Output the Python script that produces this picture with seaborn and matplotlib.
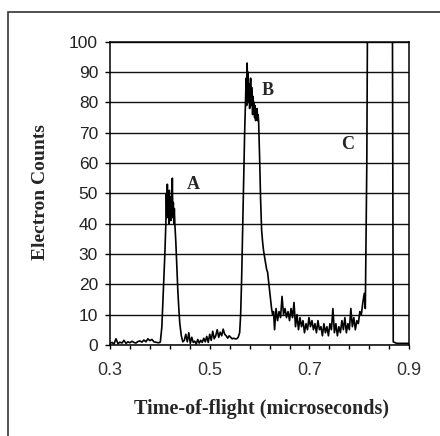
import matplotlib

matplotlib.use("Agg")

import numpy as np
import pandas as pd
import seaborn as sns
from matplotlib import pyplot as plt
from matplotlib.patches import Rectangle

# flat baseline before peak A
pre_a_time = [0.300, 0.304, 0.308, 0.312, 0.316, 0.320, 0.324, 0.328, 0.332, 0.336, 0.340, 0.344, 0.348,
              0.352, 0.356, 0.360, 0.364, 0.368, 0.372, 0.376, 0.380, 0.384, 0.388, 0.392, 0.396, 0.400]
pre_a_counts = [0.5, 0.8, 0.3, 2.0, 0.4, 0.9, 0.6, 1.5, 0.5, 1.0, 0.7, 1.2, 0.8,
                0.6, 1.1, 1.3, 0.9, 1.6, 1.0, 2.0, 1.4, 1.8, 1.0, 0.9, 0.7, 0.8]

# peak A
peak_a_time = [0.401, 0.404, 0.407, 0.410, 0.412, 0.413, 0.414, 0.415, 0.416, 0.417, 0.418, 0.419, 0.420,
               0.421, 0.422, 0.423, 0.424, 0.425, 0.426, 0.427, 0.428, 0.429, 0.430, 0.432, 0.434, 0.436,
               0.438, 0.440, 0.443, 0.446]
peak_a_counts = [1, 6, 18, 30, 40, 50, 42, 53, 45, 48, 40, 51, 43,
                 46, 41, 49, 44, 55, 42, 47, 40, 45, 40, 34, 26, 18,
                 12, 7, 3, 1]

# noisy floor between A and B
mid_time = [0.449, 0.452, 0.455, 0.458, 0.461, 0.464, 0.467, 0.470, 0.473, 0.476, 0.479, 0.482, 0.485,
            0.488, 0.491, 0.494, 0.497, 0.500, 0.503, 0.506, 0.509, 0.512, 0.515, 0.518, 0.521, 0.524,
            0.527, 0.530, 0.533, 0.536, 0.539, 0.542, 0.545, 0.548, 0.551, 0.554, 0.557]
mid_counts = [1.5, 3.5, 1.0, 4.0, 0.5, 2.5, 0.8, 1.2, 0.3, 1.8, 0.6, 1.5, 0.8,
              2.2, 1.0, 2.8, 0.8, 3.5, 1.5, 4.5, 2.0, 3.0, 5.0, 2.5, 4.2, 3.0,
              5.2, 3.5, 3.0, 2.2, 3.0, 2.5, 2.0, 2.2, 2.0, 2.0, 2.5]

# peak B
peak_b_time = [0.560, 0.562, 0.564, 0.566, 0.568, 0.570, 0.572, 0.573, 0.574, 0.575, 0.576, 0.577, 0.578,
               0.579, 0.580, 0.581, 0.582, 0.583, 0.584, 0.585, 0.586, 0.587, 0.588, 0.589, 0.590, 0.591,
               0.592, 0.593, 0.594, 0.595, 0.596, 0.597, 0.598]
peak_b_counts = [4, 10, 22, 38, 55, 70, 82, 88, 79, 93, 84, 90, 80,
                 86, 78, 83, 88, 79, 85, 81, 76, 82, 78, 80, 75, 79,
                 74, 77, 75, 78, 74, 76, 74]

# tail of peak B
tail_b_time = [0.600, 0.602, 0.604, 0.606, 0.608, 0.610, 0.612, 0.614, 0.616, 0.618, 0.620, 0.622, 0.624,
               0.626, 0.628]
tail_b_counts = [62, 48, 38, 34, 31, 29, 27, 25, 24, 21, 18, 15, 12, 10, 11]

# noisy floor between B and C
floor_time = [0.630, 0.633, 0.636, 0.639, 0.642, 0.645, 0.648, 0.651, 0.654, 0.657, 0.660, 0.663, 0.666,
              0.669, 0.672, 0.675, 0.678, 0.681, 0.684, 0.687, 0.690, 0.693, 0.696, 0.699, 0.702, 0.705,
              0.708, 0.711, 0.714, 0.717, 0.720, 0.723, 0.726, 0.729, 0.732, 0.735, 0.738, 0.741, 0.744,
              0.747, 0.750, 0.753, 0.756, 0.759, 0.762, 0.765, 0.768, 0.771, 0.774, 0.777, 0.780, 0.783,
              0.786, 0.789, 0.792, 0.795, 0.798, 0.801, 0.804, 0.807, 0.810, 0.812]
floor_counts = [5, 12, 8, 11, 9, 16, 10, 12, 9, 11, 8, 12, 9,
                14, 6, 10, 5, 9, 6, 8, 4, 7, 5, 9, 6, 8,
                5, 7, 4, 8, 5, 6, 3, 7, 4, 6, 3, 7, 5,
                12, 4, 7, 3, 6, 4, 8, 5, 9, 4, 7, 5, 12,
                6, 9, 5, 8, 7, 11, 10, 14, 17, 12]

# peak C runs off the top of the scale
peak_c_time = [0.815, 0.817, 0.866, 0.868, 0.875, 0.885, 0.900]
peak_c_counts = [60, 130, 130, 1, 0.5, 0.5, 0.5]

y_ticks = [0, 10, 20, 30, 40, 50, 60, 70, 80, 90, 100]
x_ticks = [0.30, 0.34, 0.38, 0.42, 0.46, 0.50, 0.54, 0.58, 0.62, 0.66, 0.70, 0.74, 0.78, 0.82, 0.86, 0.90]
x_tick_labels = ["0.3", "", "", "", "", "0.5", "", "", "", "", "0.7", "", "", "", "", "0.9"]

peak_labels = ["A", "B", "C"]
peak_label_time = [0.467, 0.616, 0.777]
peak_label_counts = [53, 84, 66]

sns.set_theme(style="white")
plt.rcParams["font.family"] = ["Liberation Sans", "DejaVu Sans"]

SERIF = ["Liberation Serif", "DejaVu Serif"]


def build_trace() -> pd.DataFrame:
    time = np.concatenate([pre_a_time, peak_a_time, mid_time, peak_b_time, tail_b_time, floor_time, peak_c_time])
    counts = np.concatenate([pre_a_counts, peak_a_counts, mid_counts, peak_b_counts, tail_b_counts,
                             floor_counts, peak_c_counts])
    return pd.DataFrame({"time": time, "counts": counts})


def main() -> None:
    trace = build_trace()

    fig = plt.figure(figsize=(4.4, 4.36), dpi=100)
    ax = fig.add_axes([0.25, 0.209, 0.68, 0.695])

    for value in y_ticks:
        ax.axhline(value, color="#111111", linewidth=1.0, zorder=1)

    sns.lineplot(data=trace, x="time", y="counts", color="black", linewidth=1.2,
                 estimator=None, sort=False, ax=ax, zorder=3)

    ax.set_xlim(0.3, 0.9)
    ax.set_ylim(0, 100)
    ax.set_yticks(y_ticks)
    ax.set_yticklabels([str(v) for v in y_ticks], fontsize=12.5, color="#222222")
    ax.set_xticks(x_ticks)
    ax.set_xticklabels(x_tick_labels, fontsize=13, color="#333333")
    ax.tick_params(axis="y", direction="out", length=3.6, width=1, pad=5, color="black", left=True)
    ax.tick_params(axis="x", direction="out", length=3, width=1, pad=9.5, color="black", bottom=True)

    for spine in ax.spines.values():
        spine.set_color("black")
        spine.set_linewidth(1.1)

    ax.set_xlabel("Time-of-flight (microseconds)", fontsize=14.5, fontweight="bold", family=SERIF)
    ax.set_ylabel("Electron Counts", fontsize=14, fontweight="bold", family=SERIF)
    ax.xaxis.set_label_coords(0.505, -0.18)
    ax.yaxis.set_label_coords(-0.205, 0.505)

    for label, t, c in zip(peak_labels, peak_label_time, peak_label_counts):
        ax.text(t, c, label, fontsize=13, fontweight="bold", family=SERIF, ha="center", va="center")

    fig.patches.append(Rectangle((0.018, -0.1), 1.2, 1.1 - 0.028, transform=fig.transFigure,
                                 fill=False, edgecolor="#333333", linewidth=1.2))

    fig.savefig("out.png", dpi=100)
    plt.close(fig)


if __name__ == "__main__":
    main()
